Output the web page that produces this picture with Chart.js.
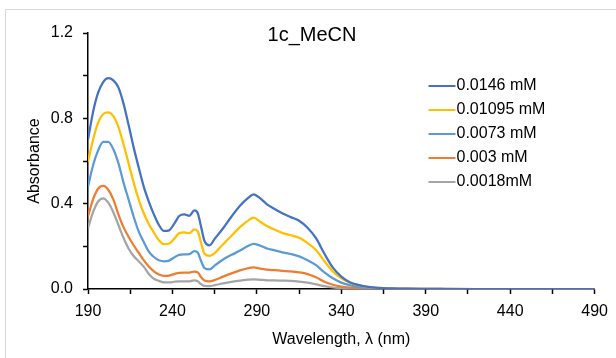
<!DOCTYPE html>
<html>
<head>
<meta charset="utf-8">
<script src="https://cdn.jsdelivr.net/npm/chart.js@4.4.1/dist/chart.umd.min.js"></script>
<style>
  html, body { margin: 0; padding: 0; background: #fff; }
  #wrap { position: relative; width: 616px; height: 358px; overflow: hidden; background: #fff; }
  #frame { position: absolute; left: 5px; top: 9px; width: 700px; height: 400px; border: 1px solid #d9d9d9; box-sizing: border-box; }
  #c { position: absolute; left: 0; top: 0; }
</style>
</head>
<body>
<div id="wrap">
  <div id="frame"></div>
  <canvas id="c" width="616" height="358"></canvas>
</div>
<script>
// ---- data ----
const wavelengths = [190,193,196,199,202,205,208,211,214,217,220,223,226,229,232,235,238,241,244,247,250,253,255,257,259,262,265,270,275,280,285,288,292,296,300,305,310,315,320,325,330,335,340,345,350,355,360,370,380,390,400,420,440,460,490];

const abs_0146 = [0.70,0.83,0.92,0.97,0.988,0.978,0.945,0.87,0.77,0.665,0.57,0.48,0.41,0.35,0.30,0.272,0.275,0.305,0.342,0.35,0.343,0.368,0.355,0.29,0.225,0.205,0.235,0.285,0.34,0.39,0.428,0.444,0.425,0.397,0.377,0.355,0.337,0.32,0.287,0.238,0.165,0.10,0.058,0.032,0.019,0.011,0.007,0.003,0.0015,0.001,0.0005,0,0,0,0];
const abs_01095 = [0.597,0.70,0.78,0.82,0.828,0.81,0.76,0.68,0.59,0.50,0.42,0.355,0.305,0.265,0.228,0.21,0.212,0.235,0.262,0.265,0.262,0.28,0.27,0.215,0.165,0.155,0.168,0.21,0.25,0.29,0.322,0.335,0.315,0.295,0.28,0.263,0.252,0.24,0.215,0.183,0.13,0.082,0.05,0.03,0.018,0.01,0.006,0.003,0.0015,0.001,0.0005,0,0,0,0];
const abs_0073 = [0.48,0.58,0.65,0.69,0.69,0.655,0.59,0.50,0.42,0.34,0.27,0.22,0.175,0.15,0.135,0.13,0.133,0.148,0.16,0.162,0.163,0.178,0.17,0.13,0.098,0.092,0.11,0.138,0.16,0.18,0.203,0.212,0.203,0.19,0.182,0.172,0.164,0.153,0.135,0.112,0.078,0.05,0.03,0.018,0.01,0.006,0.004,0.002,0.001,0.0005,0,0,0,0,0];
const abs_003 = [0.34,0.42,0.47,0.483,0.465,0.42,0.35,0.29,0.245,0.205,0.17,0.135,0.105,0.083,0.068,0.062,0.063,0.07,0.076,0.077,0.077,0.082,0.078,0.055,0.04,0.036,0.042,0.058,0.073,0.087,0.098,0.101,0.096,0.091,0.088,0.085,0.083,0.078,0.07,0.055,0.034,0.02,0.011,0.006,0.003,0.002,0.001,0,0,0,0,0,0,0,0];
const abs_0018 = [0.285,0.36,0.41,0.425,0.405,0.36,0.30,0.24,0.19,0.155,0.13,0.105,0.07,0.048,0.038,0.031,0.031,0.034,0.036,0.036,0.036,0.04,0.036,0.022,0.015,0.014,0.018,0.026,0.033,0.039,0.044,0.045,0.043,0.041,0.04,0.039,0.038,0.035,0.03,0.022,0.013,0.007,0.004,0.002,0.001,0,0,0,0,0,0,0,0,0,0];

const seriesLabels = ['0.0146 mM', '0.01095 mM', '0.0073 mM', '0.003 mM', '0.0018mM'];
const seriesColors = ['#4472C4', '#FFC000', '#5B9BD5', '#ED7D31', '#A5A5A5'];

const xTickValues = [190,215,240,265,290,315,340,365,390,415,440,465,490];
const xTickLabels = ['190','','240','','290','','340','','390','','440','','490'];
const yTickValues = [0,0.2,0.4,0.6,0.8,1.0,1.2];
const yTickLabels = ['0.0','','0.4','','0.8','','1.2'];

// ---- helpers ----
const FONT = "'Liberation Sans', Arial, sans-serif";

function lineSwatch(color) {
  const c = document.createElement('canvas');
  c.width = 43; c.height = 4;
  const g = c.getContext('2d');
  g.strokeStyle = color; g.lineWidth = 2;
  g.beginPath(); g.moveTo(15, 2); g.lineTo(42, 2); g.stroke();
  return c;
}

const seriesValues = [abs_0146, abs_01095, abs_0073, abs_003, abs_0018];
const datasets = seriesValues.map((vals, i) => ({
  label: seriesLabels[i],
  data: wavelengths.map((w, j) => ({ x: w, y: vals[j] })),
  borderColor: seriesColors[i],
  backgroundColor: seriesColors[i],
  borderWidth: 2.25,
  pointRadius: 0,
  pointStyle: lineSwatch(seriesColors[i]),
  cubicInterpolationMode: 'monotone',
  fill: false
}));

const placePlugin = {
  id: 'place',
  afterLayout(chart) {
    const t = chart.titleBlock;
    if (t) { t.left = 0; t.right = 624; }
    const lg = chart.legend;
    if (lg) {
      lg.left = 413.5; lg.top = 70;
      lg.right = lg.left + 200; lg.bottom = lg.top + 300;
      lg.width = 200; lg.height = 300;
    }
  }
};

new Chart(document.getElementById('c'), {
  type: 'line',
  data: { datasets },
  plugins: [placePlugin],
  options: {
    responsive: false,
    animation: false,
    devicePixelRatio: 1,
    layout: { padding: { left: 0, right: 20, top: 0, bottom: 0 } },
    plugins: {
      tooltip: { enabled: false },
      title: {
        display: true,
        text: '1c_MeCN',
        color: '#000',
        font: { family: FONT, size: 20, weight: 'normal' },
        padding: { top: 23, bottom: -14 }
      },
      legend: {
        display: true,
        position: 'chartArea',
        align: 'start',
        labels: {
          usePointStyle: true,
          pointStyleWidth: 27,
          padding: 8,
          color: '#000',
          font: { family: FONT, size: 16 }
        }
      }
    },
    scales: {
      x: {
        type: 'linear',
        min: 190, max: 490,
        afterBuildTicks: (s) => { s.ticks = xTickValues.map(v => ({ value: v })); },
        afterFit: (s) => { s.height = 69; },
        ticks: {
          autoSkip: false, maxRotation: 0, padding: 8, color: '#000',
          font: { family: FONT, size: 16 },
          callback: (v, i) => xTickLabels[i]
        },
        grid: { display: true, drawOnChartArea: false, drawTicks: true, tickLength: 5, tickColor: '#000', tickWidth: 1.5 },
        border: { display: true, color: '#000', width: 1.5 },
        title: {
          display: true, text: 'Wavelength, λ (nm)', color: '#000',
          font: { family: FONT, size: 16 }, padding: { top: 0, bottom: 8.4 }
        }
      },
      y: {
        type: 'linear',
        min: 0, max: 1.2,
        afterBuildTicks: (s) => { s.ticks = yTickValues.map(v => ({ value: v })); },
        afterFit: (s) => { s.width = 88; },
        ticks: {
          padding: 10, color: '#000',
          font: { family: FONT, size: 16 },
          callback: (v, i) => yTickLabels[i]
        },
        grid: { display: true, drawOnChartArea: false, drawTicks: true, tickLength: 5, tickColor: '#000', tickWidth: 1.5 },
        border: { display: true, color: '#000', width: 1.5 },
        title: {
          display: true, text: 'Absorbance', color: '#000',
          font: { family: FONT, size: 16 }, padding: { top: 25, bottom: 0 }
        }
      }
    }
  }
});
</script>
</body>
</html>
